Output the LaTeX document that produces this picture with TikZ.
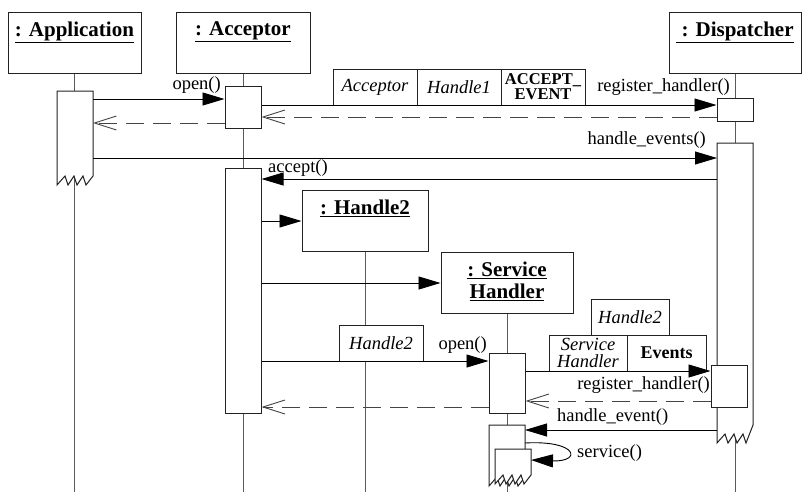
\documentclass[tikz,border=0pt]{standalone}
\usepackage{fontspec}
\setmainfont{Liberation Serif}
\usepackage{tikz}
\usetikzlibrary{arrows.meta,positioning,calc}
\definecolor{lineDraw}{HTML}{222222}
\definecolor{lifeDraw}{HTML}{5A5A5A}
\definecolor{retDraw}{HTML}{444444}
\newcommand{\lblfont}{\fontsize{18.5}{17}\selectfont}
\tikzset{
  font=\lblfont,
  obj/.style   ={draw=lineDraw, fill=white, line width=1pt, minimum width=#1, minimum height=61pt, inner sep=0pt},
  title/.style ={font=\fontsize{21}{22}\selectfont\bfseries, align=center, inner sep=0pt},
  act/.style   ={draw=lineDraw, fill=white, line width=1pt, minimum width=36pt, minimum height=#1, inner sep=0pt},
  ghost/.style ={minimum width=36pt, minimum height=#1, inner sep=0pt, outer sep=0pt},
  actline/.style={draw=lineDraw, fill=white, line width=1pt},
  life/.style  ={draw=lifeDraw, line width=1pt},
  cell/.style  ={draw=lineDraw, fill=white, line width=1pt, minimum width=84pt, minimum height=36pt, inner sep=0pt, outer sep=0pt, align=center},
  ital/.style  ={font=\lblfont\itshape},
  bold/.style  ={font=\fontsize{18}{16}\selectfont\bfseries},
  lbl/.style   ={inner sep=0pt},
  msg/.style   ={-{Triangle[length=22pt, width=13pt]}, line width=0.9pt, draw=black},
  ret/.style   ={-{Straight Barb[length=22pt, width=14pt]}, line width=0.9pt, draw=retDraw, dash pattern=on 18pt off 9pt},
}
\newcommand{\tornact}[2]{%
  \filldraw[actline] (#1.south west) -- (#1.north west) -- (#1.north east)
    -- ($(#1.south east)+(0,-#2)$) -- ++(-7,#2) -- ++(-3,-9) -- ++(-6,9)
    -- ++(-3,-9) -- ++(-6,9) -- ++(-3,-9) -- cycle;}

\begin{document}
\begin{tikzpicture}[x=1pt, y=-1pt]
  \useasboundingbox (0,0) rectangle (811,501);

  \node[obj=133pt] (app)  at (74.5,42.5) {};
  \node[obj=134pt] (acc)  at (243,42.5)  {};
  \node[obj=132pt] (disp) at (735,42.5)  {};
  \node[obj=126pt] (h2)   at (365,221)   {};
  \node[obj=132pt] (sh)   at (507,283)   {};
  \node[title, below=10pt of app.north]  (appT)  {\underline{: Application}};
  \node[title, below=10pt of acc.north]  (accT)  {\underline{: Acceptor}};
  \node[title, below=10pt of disp.north] (dispT) {\underline{\ : Dispatcher}};
  \node[title, below=10pt of h2.north]   (h2T)   {\underline{: Handle2}};
  \node[title, below=10pt of sh.north]   (shT)   {\underline{: Service}\\\underline{Handler}};

  \draw[life] (app.south)  -- (app.south |- 0,492);
  \draw[life] (acc.south)  -- (acc.south |- 0,492);
  \draw[life] (disp.south) -- (disp.south |- 0,492);
  \draw[life] (h2.south)   -- (h2.south |- 0,492);
  \draw[life] (sh.south)   -- (sh.south |- 0,492);

  \node[ghost=94pt] (appA) at (75,138) {}; \tornact{appA}{9}
  \node[act=42pt]   (accA1) at (243,107)   {};
  \node[act=245pt]  (accA2) at (243,290.5) {};
  \node[act=23pt]   (dA1) at (735,109.5) {};
  \node[ghost=300pt] (dA2) at (735,293) {}; \tornact{dA2}{18}
  \node[act=42pt]   (dA3) at (729,386) {};
  \node[act=60pt]   (sA1) at (507,383) {};
  \node[ghost=61pt] (sA2) at (507,455.5) {}; \tornact{sA2}{9}
  \node[ghost=35pt] (sA3) at (513,466.5) {}; \tornact{sA3}{9}

  \node[cell, ital]                  (pAcc) at (375,87) {Acceptor};
  \node[cell, ital, right=0pt of pAcc] (pH1)  {Handle1};
  \node[cell, bold, right=0pt of pH1, font=\fontsize{16.5}{15}\selectfont\bfseries] (pAev) {ACCEPT\_\\EVENT};
  \node[cell, ital]                  (pH2a) at (381,343) {Handle2};
  \node[cell, ital, minimum width=78pt] (pH2b) at (630,317) {Handle2};
  \node[cell, ital, minimum width=78pt] (pSh)  at (588,353) {Service\\Handler};
  \node[cell, bold, minimum width=79pt, right=0pt of pSh] (pEvs) {Events};

  \draw[msg] (appA.east |- 0,99)   -- (accA1.west |- 0,99);
  \draw[ret] (accA1.west |- 0,123) -- (appA.east |- 0,123);
  \draw[msg] (accA1.east |- 0,105) -- (dA1.west |- 0,105);
  \draw[ret] (dA1.west |- 0,117)   -- (accA1.east |- 0,117);
  \draw[msg] (appA.east |- 0,158)  -- (dA2.west |- 0,158);
  \draw[msg] (dA2.west |- 0,179)   -- (accA2.east |- 0,179);
  \draw[msg] (accA2.east |- h2.west) -- (h2.west);
  \draw[msg] (accA2.east |- sh.west) -- (sh.west);
  \draw[msg] (accA2.east |- 0,361) -- (sA1.west |- 0,361);
  \draw[msg] (sA1.east |- 0,371)   -- (dA3.west |- 0,371);
  \draw[ret] (dA3.west |- 0,401)   -- (sA1.east |- 0,401);
  \draw[ret] (sA1.west |- 0,407)   -- (accA2.east |- 0,407);
  \draw[msg] (dA2.west |- 0,430)   -- (sA2.east |- 0,430);
  \draw[msg] (sA2.east |- 0,443) .. controls (578,440) and (582,462) .. (sA3.east |- 0,460);

  \node[lbl, anchor=base east] (lOpenA) at (221,89)  {open()};
  \node[lbl, anchor=base east] (lRegA)  at (730,91)  {register\_handler()};
  \node[lbl, anchor=base east] (lHes)   at (706,144) {handle\_events()};
  \node[lbl, anchor=base west] (lAcc)   at (268,172) {accept()};
  \node[lbl, anchor=base east] (lOpenB) at (487,349) {open()};
  \node[lbl, anchor=base east] (lRegB)  at (710,389) {register\_handler()};
  \node[lbl, anchor=base west] (lHe)    at (557,421) {handle\_event()};
  \node[lbl, anchor=base west] (lSrv)   at (577,457) {service()};
\end{tikzpicture}
\end{document}
